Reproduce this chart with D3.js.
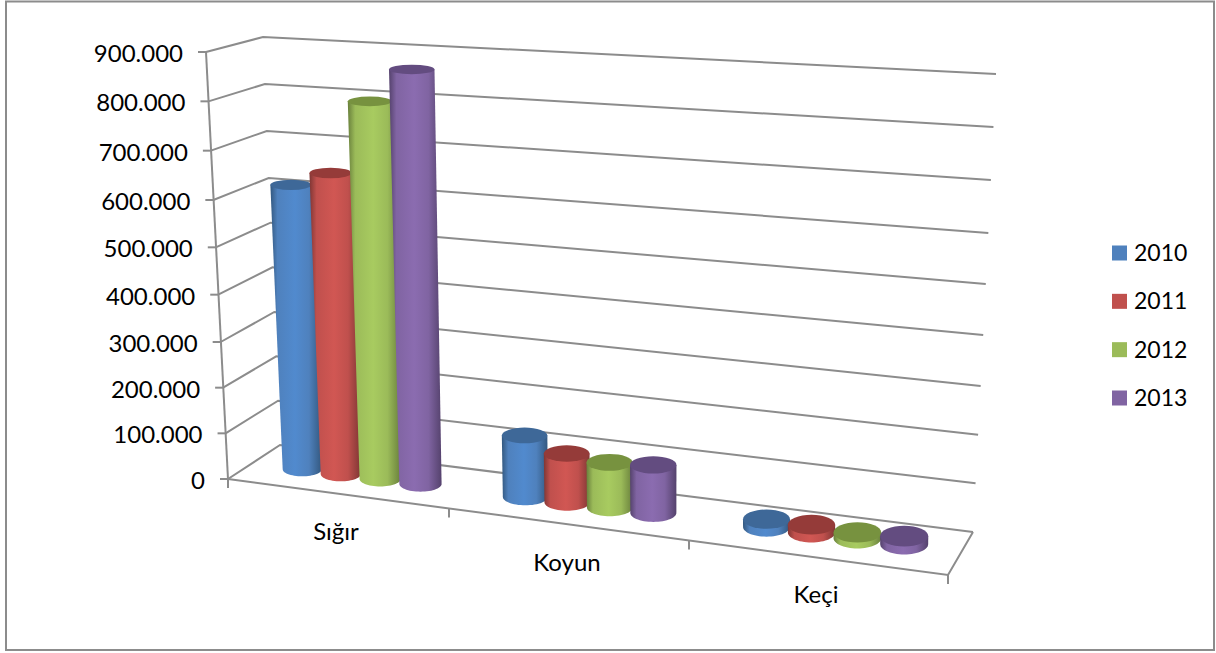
<!DOCTYPE html>
<html>
<head>
<meta charset="utf-8">
<style>
  html, body { margin: 0; padding: 0; background: #fff; }
  svg { display: block; }
  text { font-family: Lato, "Open Sans", sans-serif; fill: #000; }
</style>
<script src="https://cdn.jsdelivr.net/npm/d3@7"></script>
</head>
<body>
<svg id="chart" width="1216" height="653"></svg>
<script>
// data
const categories = ['Sığır', 'Koyun', 'Keçi'];
const years = ['2010', '2011', '2012', '2013'];
const values2010 = [605000, 125000, 15000];
const values2011 = [635000, 98000, 15000];
const values2012 = [790000, 90000, 11000];
const values2013 = [860000, 95000, 15000];
const seriesValues = [values2010, values2011, values2012, values2013];

const colors = [
  { side: '#4f81bd', light: '#518ace', dark: '#33587f', top: '#3e6898' },
  { side: '#c0504d', light: '#d15753', dark: '#7f3634', top: '#953b39' },
  { side: '#9bbb59', light: '#a8cb60', dark: '#69803c', top: '#77923f' },
  { side: '#8064a2', light: '#8b6cb0', dark: '#55426d', top: '#634c80' }
];
const gridColor = '#8c8c8c';

const svg = d3.select('#chart');
const numberFormat = d3.formatLocale({ decimal: ',', thousands: '.', grouping: [3], currency: ['', ''] }).format(',');

// outer frame
svg.append('rect')
  .attr('x', 6).attr('y', 1.5)
  .attr('width', 1208).attr('height', 648.5)
  .attr('fill', 'none').attr('stroke', '#8c8c8c').attr('stroke-width', 2);

// the "3D" box: one value scale per vertical edge, slightly bent for perspective
const valueDomain = [0, 300000, 600000, 900000];
const frontLeftY = d3.scaleLinear().domain(valueDomain).range([479, 342, 200, 52]);
const frontLeftX = d3.scaleLinear().domain([0, 900000]).range([228, 206]);
const backLeftY = d3.scaleLinear().domain(valueDomain).range([445, 312, 178, 37]);
const backLeftX = d3.scaleLinear().domain([0, 900000]).range([280, 263]);
const backRightY = d3.scaleLinear().domain(valueDomain).range([532, 386, 233, 74]);
const backRightX = d3.scaleLinear().domain([0, 900000]).range([973, 996]);
const levels = d3.scaleLinear().domain([0, 900000]).ticks(9);

// front edge of the floor, one stop per category boundary
const frontX = d3.scaleLinear().domain([0, 1, 2, 3]).range([228, 449, 689, 948]);
const frontY = d3.scaleLinear().domain([228, 948]).range([479, 575]);

const line = d3.line();
const walls = svg.append('g')
  .attr('fill', 'none').attr('stroke', gridColor).attr('stroke-width', 2);

walls.selectAll('path.grid')
  .data(levels)
  .join('path')
  .attr('class', 'grid')
  .attr('d', v => line([
    [frontLeftX(v), frontLeftY(v)],
    [backLeftX(v), backLeftY(v)],
    [backRightX(v), backRightY(v)]
  ]));

// left axis, floor edges
walls.append('path').attr('d', line([
  [frontLeftX(900000), frontLeftY(900000)],
  [frontLeftX(0), frontLeftY(0)]
]));
walls.append('path').attr('d', line([
  [frontLeftX(0), frontLeftY(0)],
  [frontX(3), frontY(frontX(3))],
  [backRightX(0), backRightY(0)]
]));

// ticks
walls.selectAll('path.ytick')
  .data(levels)
  .join('path')
  .attr('class', 'ytick')
  .attr('d', v => line([[frontLeftX(v) - 8, frontLeftY(v)], [frontLeftX(v), frontLeftY(v)]]));
walls.selectAll('path.xtick')
  .data(d3.range(4))
  .join('path')
  .attr('class', 'xtick')
  .attr('d', i => line([[frontX(i), frontY(frontX(i))], [frontX(i), frontY(frontX(i)) + 9]]));

// y labels
svg.selectAll('text.ylabel')
  .data(levels)
  .join('text')
  .attr('class', 'ylabel')
  .attr('x', v => frontLeftX(v) - 23)
  .attr('y', v => frontLeftY(v) + 10)
  .attr('text-anchor', 'end')
  .attr('font-size', 24)
  .text(v => numberFormat(v));

// cylinders: position along the floor at mid depth
const seriesStep = 0.18;
const floorX = d3.scaleLinear()
  .domain([-0.5, 0, 0.5, 1, 1.5, 2, 2.5])
  .range([253, 360, 472, 588, 709, 834, 964]);
const floorY = d3.scaleLinear().domain([300, 904]).range([469, 544]);
const pxPerValue = d3.scaleLinear().domain([300, 904]).range([0.00047, 0.00053]);
const lean = d3.scaleLinear().domain([300, 421, 680, 1000]).range([0.04, 0.021, 0, 0]);
const radiusX = d3.scaleLinear().domain([300, 523, 904]).range([19.5, 22.5, 24]);
const radiusY = d3.scaleLinear().domain([300, 904]).range([7, 10.5]);
const topSpread = d3.scaleLinear().domain([0, 900000]).range([1, 1.08]);
const topFlatten = d3.scaleLinear().domain([0, 900000]).range([1, 0.6]);

const defs = svg.append('defs');
colors.forEach((c, i) => {
  const g = defs.append('linearGradient').attr('id', 'side' + i);
  [[0, c.dark], [0.14, c.side], [0.48, c.light], [0.75, c.side], [1, c.dark]].forEach(s => {
    g.append('stop').attr('offset', s[0]).attr('stop-color', s[1]);
  });
});

const bars = [];
seriesValues.forEach((vals, s) => {
  vals.forEach((v, c) => {
    const baseX = floorX(c + (s - 1.5) * seriesStep);
    const baseY = floorY(baseX);
    const h = v * pxPerValue(baseX);
    bars.push({
      s: s,
      baseX: baseX,
      baseY: baseY,
      topX: baseX - h * lean(baseX),
      topY: baseY - h,
      rx: radiusX(baseX),
      ry: radiusY(baseX),
      topRx: radiusX(baseX) * topSpread(v),
      topRy: radiusY(baseX) * topFlatten(v)
    });
  });
});

const barG = svg.selectAll('g.bar')
  .data(bars)
  .join('g')
  .attr('class', 'bar');

barG.append('path')
  .attr('fill', d => 'url(#side' + d.s + ')')
  .attr('d', d => {
    const p = d3.path();
    p.moveTo(d.topX - d.topRx, d.topY);
    p.lineTo(d.baseX - d.rx, d.baseY);
    // lower half of the base ellipse
    for (let a = 180; a >= 0; a -= 6) {
      const t = a * Math.PI / 180;
      p.lineTo(d.baseX + d.rx * Math.cos(t), d.baseY + d.ry * Math.sin(t));
    }
    p.lineTo(d.topX + d.topRx, d.topY);
    p.closePath();
    return p.toString();
  });

barG.append('ellipse')
  .attr('cx', d => d.topX)
  .attr('cy', d => d.topY)
  .attr('rx', d => d.topRx)
  .attr('ry', d => d.topRy)
  .attr('fill', d => colors[d.s].top);

// category labels
const catLabelX = [336, 567, 816];
const catLabelY = [540, 571, 603];
svg.selectAll('text.cat')
  .data(categories)
  .join('text')
  .attr('class', 'cat')
  .attr('x', (d, i) => catLabelX[i])
  .attr('y', (d, i) => catLabelY[i])
  .attr('text-anchor', 'middle')
  .attr('font-size', 24)
  .text(d => d);

// legend
const legendY = d3.scalePoint().domain(years).range([253, 398]);
const legend = svg.selectAll('g.legend')
  .data(years)
  .join('g')
  .attr('class', 'legend')
  .attr('transform', d => `translate(1112,${legendY(d)})`);
legend.append('rect')
  .attr('y', -7.5)
  .attr('width', 15).attr('height', 15)
  .attr('fill', (d, i) => colors[i].side);
legend.append('text')
  .attr('x', 22)
  .attr('y', 8)
  .attr('font-size', 23)
  .text(d => d);
</script>
</body>
</html>
